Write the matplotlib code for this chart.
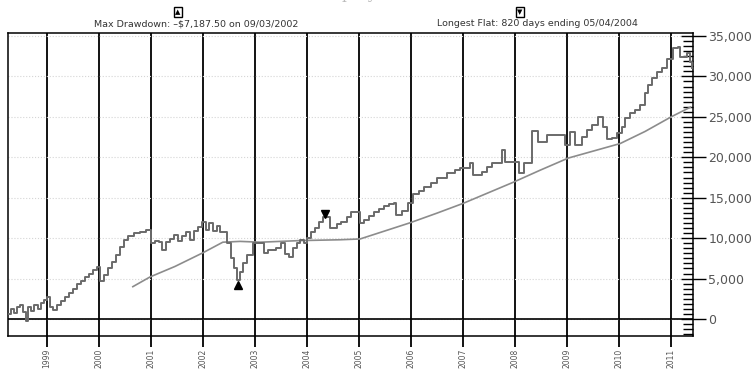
import numpy as np
import matplotlib
matplotlib.use('Agg')
import matplotlib.pyplot as plt
from matplotlib.ticker import MultipleLocator, FuncFormatter

# equity curve, step values (decimal year, $)
eq_t = [1998.25, 1998.31, 1998.37, 1998.42, 1998.48, 1998.54, 1998.60, 1998.64, 1998.69, 1998.75,
        1998.83, 1998.88, 1998.94, 1999.00, 1999.06, 1999.12, 1999.19, 1999.27, 1999.35, 1999.42,
        1999.50, 1999.58, 1999.65, 1999.73, 1999.81, 1999.88, 1999.96, 2000.02, 2000.10, 2000.17,
        2000.25, 2000.33, 2000.40, 2000.48, 2000.56, 2000.67, 2000.79, 2000.90, 2001.00, 2001.08,
        2001.15, 2001.21, 2001.29, 2001.37, 2001.44, 2001.52, 2001.60, 2001.67, 2001.75, 2001.83,
        2001.90, 2001.98, 2002.06, 2002.12, 2002.19, 2002.27, 2002.33, 2002.46, 2002.54, 2002.60,
        2002.65, 2002.71, 2002.77, 2002.85, 2002.96, 2003.17, 2003.25, 2003.40, 2003.50, 2003.58,
        2003.65, 2003.73, 2003.81, 2003.87, 2003.94, 2004.00, 2004.08, 2004.15, 2004.23, 2004.31,
        2004.45, 2004.58, 2004.65, 2004.77, 2004.85, 2005.02, 2005.10, 2005.19, 2005.29, 2005.38,
        2005.48, 2005.58, 2005.67, 2005.71, 2005.83, 2005.94, 2006.04, 2006.15, 2006.25, 2006.38,
        2006.50, 2006.69, 2006.85, 2006.94, 2007.13, 2007.19, 2007.37, 2007.46, 2007.56, 2007.75,
        2007.81, 2008.08, 2008.17, 2008.33, 2008.44, 2008.62, 2008.96, 2009.06, 2009.15, 2009.29,
        2009.38, 2009.48, 2009.60, 2009.69, 2009.77, 2009.87, 2009.96, 2010.06, 2010.12, 2010.21,
        2010.31, 2010.40, 2010.50, 2010.56, 2010.63, 2010.73, 2010.83, 2010.92, 2011.04, 2011.13,
        2011.17, 2011.31, 2011.36, 2011.40]
eq_v = [600, 1200, 700, 1500, 1700, 900, -300, 1500, 1000, 1700,
        1300, 2000, 2300, 2700, 1500, 1100, 1700, 2200, 2700, 3200,
        3700, 4300, 4700, 5200, 5600, 6000, 6400, 4700, 5500, 6300,
        7000, 7900, 8900, 9800, 10300, 10600, 10800, 11000, 9400, 9700,
        9500, 8500, 9500, 9900, 10400, 9600, 10300, 10800, 9800, 10900,
        11400, 12000, 11000, 11900, 10900, 11500, 10800, 9400, 7600, 6300,
        4800, 5800, 6900, 7900, 9400, 8200, 8500, 8800, 9400, 8000,
        7700, 8800, 9400, 9800, 9400, 10000, 10800, 11300, 12000, 12600,
        11300, 11700, 12000, 12600, 13200, 11900, 12300, 12800, 13200, 13600,
        14000, 14200, 14400, 12900, 13400, 14400, 15400, 15800, 16300, 16800,
        17400, 18100, 18400, 18700, 19300, 17800, 18200, 18800, 19300, 20900,
        19400, 18100, 19300, 23200, 21900, 22800, 21500, 23100, 21500, 22500,
        23400, 24000, 25000, 23800, 22200, 22400, 23000, 23800, 24900, 25500,
        25900, 26500, 28000, 29000, 29800, 30600, 31100, 32100, 33500, 33700,
        32400, 32900, 31800, 31100]

# moving average of equity
ma_t = [2000.65, 2000.98, 2001.46, 2002.00, 2002.38, 2002.71, 2003.10, 2003.87, 2004.63, 2005.02,
        2005.50, 2005.98, 2006.50, 2007.00, 2007.48, 2007.96, 2008.48, 2009.02, 2009.52, 2010.02,
        2010.50, 2011.00, 2011.37]
ma_v = [4000, 5200, 6500, 8200, 9500, 9600, 9500, 9700, 9800, 9900,
        10900, 11900, 13100, 14300, 15600, 16900, 18400, 19900, 20800, 21700,
        23200, 25000, 26200]

years = list(range(1999, 2012))
dd_date, dd_val = 2002.67, 4200      # max drawdown marker
flat_date, flat_val = 2004.34, 13000  # end of longest flat marker
dd_text = 'Max Drawdown: \u2013$7,187.50 on 09/03/2002'
flat_text = 'Longest Flat: 820 days ending 05/04/2004'

fig = plt.figure(figsize=(7.54, 3.71), dpi=100)
ax = fig.add_axes([8 / 754, 35 / 371, 685 / 754, 303 / 371])

ax.plot(ma_t, ma_v, color='#8c8c8c', lw=1.2, zorder=3)
ax.plot(eq_t, eq_v, color='#6a6a6a', lw=1.4, drawstyle='steps-post', zorder=4)
ax.plot([dd_date], [dd_val], marker='^', color='black', ms=6, zorder=5)
ax.plot([flat_date], [flat_val], marker='v', color='black', ms=6, zorder=5)

ax.axhline(0, color='black', lw=1.2, zorder=2)

ax.set_xlim(1998.25, 2011.42)
ax.set_ylim(-2100, 35370)

ax.set_xticks(years)
ax.set_xticklabels([str(y) for y in years], rotation=90, fontsize=5.5, color='#555555')
ax.tick_params(axis='x', direction='out', length=8, width=1.3, pad=1)
ax.grid(axis='x', color='black', lw=1.3, zorder=1)

ax.yaxis.tick_right()
ax.yaxis.set_major_locator(MultipleLocator(5000))
ax.yaxis.set_minor_locator(MultipleLocator(625))
ax.yaxis.set_major_formatter(FuncFormatter(lambda v, p: '{:,.0f}'.format(v)))
ax.tick_params(axis='y', which='major', direction='inout', length=18, width=1, pad=2,
               labelsize=9, labelcolor='#555555')
ax.tick_params(axis='y', which='minor', direction='in', length=7, width=1)
ax.grid(axis='y', color='#d5d5d5', ls=':', lw=0.8, zorder=0)

for s in ax.spines.values():
    s.set_linewidth(1.1)

# annotations above the plot
fig.text(196 / 754, 1 - 24 / 371, dd_text, ha='center', va='center', fontsize=6.8, color='#333333')
fig.text(537 / 754, 1 - 24 / 371, flat_text, ha='center', va='center', fontsize=6.8, color='#333333')
for cx, mk in [(178, '\u25b2'), (520, '\u25bc')]:
    fig.text(cx / 754, 1 - 12 / 371, mk, ha='center', va='center', fontsize=5, color='black',
             bbox=dict(boxstyle='square,pad=0.25', fc='white', ec='black', lw=1))
# chart title, mostly above the top edge as in the source image
fig.text(377 / 754, 1 + 1 / 371, 'Equity Curve', ha='center', va='baseline',
         fontsize=11, family='serif', color='#bbbbbb')

fig.savefig('out.png', dpi=100)
